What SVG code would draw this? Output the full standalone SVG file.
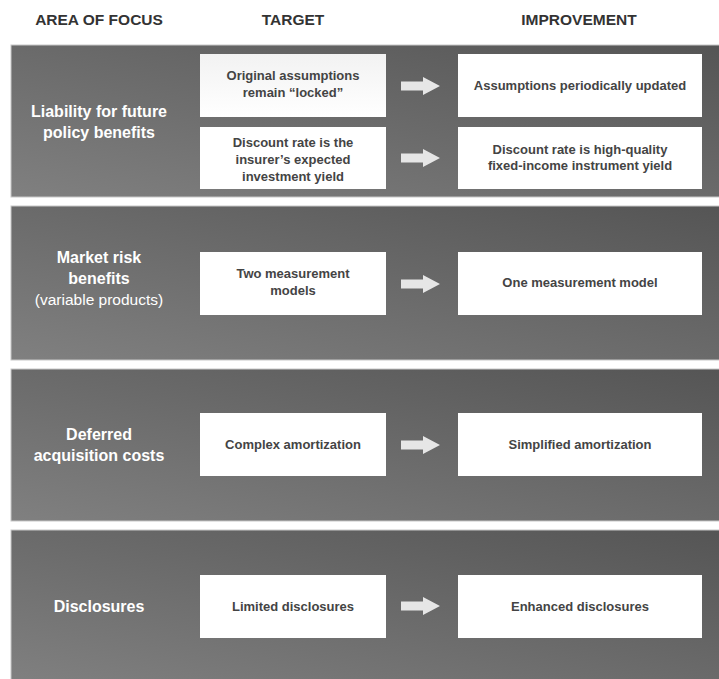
<svg xmlns="http://www.w3.org/2000/svg" width="719" height="679" viewBox="0 0 719 679">
<defs>
<linearGradient id="pg" x1="0" y1="1" x2="1" y2="0">
<stop offset="0" stop-color="#808080"/>
<stop offset="1" stop-color="#555555"/>
</linearGradient>
<linearGradient id="bg1" x1="0" y1="0" x2="0" y2="1">
<stop offset="0" stop-color="#f2f2f2"/>
<stop offset="1" stop-color="#ffffff"/>
</linearGradient>
<path id="arr" d="M0,-4.5 H22 V-9 L39,0 L22,9 V4.5 H0 Z"/>
</defs>
<style>
.hd{font-family:"Liberation Sans",Arial,sans-serif;font-weight:bold;font-size:15.5px;fill:#333333;text-anchor:middle}
.lbl{font-family:"Liberation Sans",Arial,sans-serif;font-weight:bold;font-size:16px;fill:#ffffff;text-anchor:middle}
.lbln{font-family:"Liberation Sans",Arial,sans-serif;font-size:15.5px;fill:#ffffff;text-anchor:middle}
.bt{font-family:"Liberation Sans",Arial,sans-serif;font-weight:bold;font-size:13px;fill:#444444;text-anchor:middle}
.panel{fill:url(#pg);stroke:#c8c8c8;stroke-width:1}
.box{fill:#ffffff}
.ar{fill:#e6e6e6}
</style>
<rect width="719" height="679" fill="#ffffff"/>
<g id="headers">
<text class="hd" x="99" y="25">AREA OF FOCUS</text>
<text class="hd" x="293" y="25">TARGET</text>
<text class="hd" x="579" y="25">IMPROVEMENT</text>
</g>
<g id="panel1">
<rect class="panel" x="11" y="45" width="710" height="152"/>
<text class="lbl" x="99" y="117">Liability for future</text>
<text class="lbl" x="99" y="138">policy benefits</text>
</g>
<g id="panel2">
<rect class="panel" x="11" y="206" width="710" height="154"/>
<text class="lbl" x="99" y="263">Market risk</text>
<text class="lbl" x="99" y="284">benefits</text>
<text class="lbln" x="99" y="305">(variable products)</text>
</g>
<g id="panel3">
<rect class="panel" x="11" y="369" width="710" height="152"/>
<text class="lbl" x="99" y="440">Deferred</text>
<text class="lbl" x="99" y="461">acquisition costs</text>
</g>
<g id="panel4">
<rect class="panel" x="11" y="530" width="710" height="152"/>
<text class="lbl" x="99" y="612">Disclosures</text>
</g>
<g id="t1">
<rect x="200" y="54" width="186" height="63" fill="url(#bg1)"/>
<text class="bt" x="293" y="80">Original assumptions</text>
<text class="bt" x="293" y="97">remain “locked”</text>
</g>
<g id="i1">
<rect class="box" x="458" y="54" width="244" height="63"/>
<text class="bt" x="580" y="90">Assumptions periodically updated</text>
</g>
<g id="t2">
<rect class="box" x="200" y="127" width="186" height="62"/>
<text class="bt" x="293" y="147">Discount rate is the</text>
<text class="bt" x="293" y="164">insurer’s expected</text>
<text class="bt" x="293" y="181">investment yield</text>
</g>
<g id="i2">
<rect class="box" x="458" y="127" width="244" height="62"/>
<text class="bt" x="580" y="154">Discount rate is high-quality</text>
<text class="bt" x="580" y="170">fixed-income instrument yield</text>
</g>
<g id="t3">
<rect class="box" x="200" y="252" width="186" height="63"/>
<text class="bt" x="293" y="278">Two measurement</text>
<text class="bt" x="293" y="295">models</text>
</g>
<g id="i3">
<rect class="box" x="458" y="252" width="244" height="63"/>
<text class="bt" x="580" y="287">One measurement model</text>
</g>
<g id="t4">
<rect class="box" x="200" y="413" width="186" height="63"/>
<text class="bt" x="293" y="449">Complex amortization</text>
</g>
<g id="i4">
<rect class="box" x="458" y="413" width="244" height="63"/>
<text class="bt" x="580" y="449">Simplified amortization</text>
</g>
<g id="t5">
<rect class="box" x="200" y="575" width="186" height="63"/>
<text class="bt" x="293" y="611">Limited disclosures</text>
</g>
<g id="i5">
<rect class="box" x="458" y="575" width="244" height="63"/>
<text class="bt" x="580" y="611">Enhanced disclosures</text>
</g>
<g id="connectors" class="ar">
<use href="#arr" x="401" y="86"/>
<use href="#arr" x="401" y="158"/>
<use href="#arr" x="401" y="284"/>
<use href="#arr" x="401" y="445"/>
<use href="#arr" x="401" y="606"/>
</g>
</svg>
